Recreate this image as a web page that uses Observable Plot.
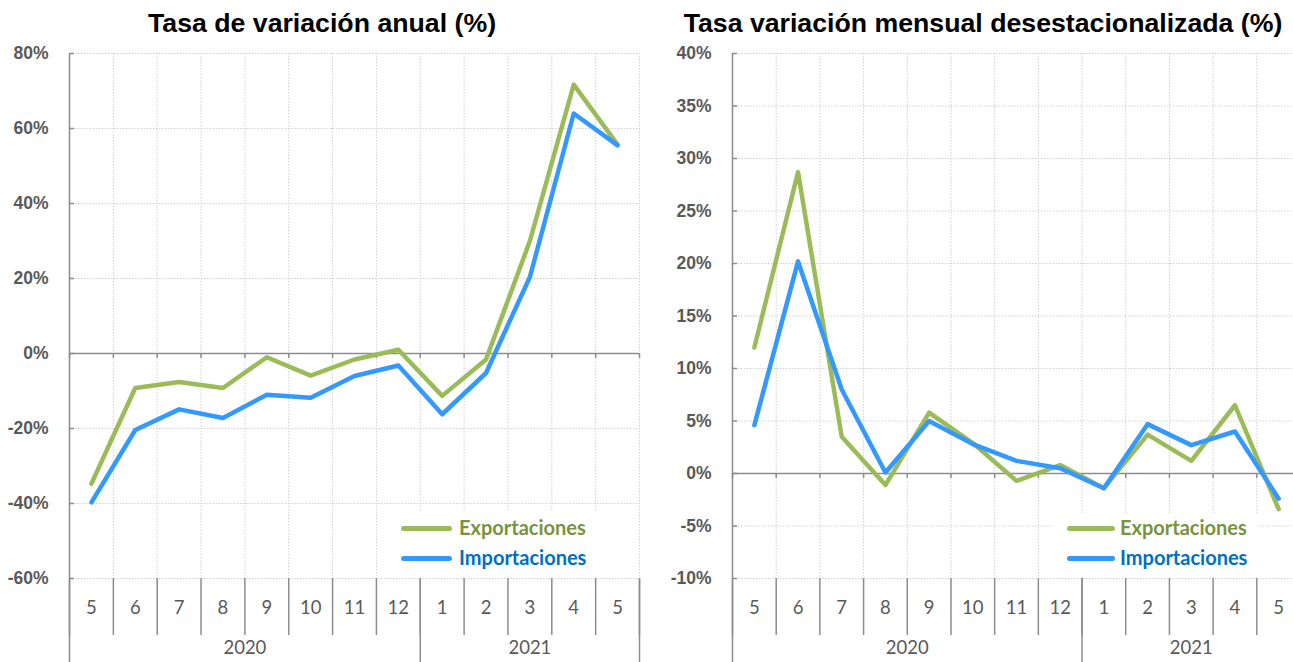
<!DOCTYPE html>
<html>
<head>
<meta charset="utf-8">
<script src="https://cdn.jsdelivr.net/npm/d3@7"></script>
<script src="https://cdn.jsdelivr.net/npm/@observablehq/plot@0.6"></script>
<style>
  html, body { margin: 0; padding: 0; background: #fff; overflow: hidden; }
  #wrap { position: relative; width: 1293px; height: 662px; overflow: hidden; }
  .title { position: absolute; top: 8px; font-family: "Liberation Sans", Arial, sans-serif; font-weight: bold; font-size: 26.7px; line-height: 30px; color: #000; text-align: center; white-space: nowrap; }
  .panel { position: absolute; top: 40px; }
  .panel svg { max-width: none !important; }
  .legend { position: absolute; background: #fff; }
  .lg-line { position: absolute; height: 5px; border-radius: 3px; }
  .lg-text { position: absolute; font-family: Lato, "Open Sans", sans-serif; font-weight: bold; font-size: 20px; line-height: 20px; white-space: nowrap; }
</style>
</head>
<body>
<div id="wrap">
  <div class="title" style="left:0px;width:644px;">Tasa de variación anual (%)</div>
  <div class="title" style="left:660px;width:646px;">Tasa variación mensual desestacionalizada (%)</div>
  <div class="panel" id="p1" style="left:0px;width:660px;"></div>
  <div class="panel" id="p2" style="left:660px;width:650px;"></div>
</div>
<script>
// ---- data ----
const months = ["5","6","7","8","9","10","11","12","1","2","3","4","5"];
const years = ["2020","2021"];
const series = ["Exportaciones","Importaciones"];
const seriesColors = ["#9BBB59","#3399FF"];
const legendTextColors = ["#77933C","#0070C0"];

const annualExp  = [-34.7, -9.2, -7.6, -9.2, -1.0, -5.9, -1.6, 1.0, -11.3, -1.6, 30.0, 71.7, 55.7];
const annualImp  = [-39.7, -20.4, -14.9, -17.2, -11.0, -11.8, -6.0, -3.2, -16.2, -5.2, 20.4, 64.0, 55.5];
const monthlyExp = [12.0, 28.7, 3.5, -1.1, 5.8, 2.9, -0.7, 0.8, -1.4, 3.7, 1.2, 6.5, -3.4];
const monthlyImp = [4.6, 20.2, 8.0, 0.1, 5.0, 2.8, 1.2, 0.5, -1.4, 4.7, 2.7, 4.0, -2.4];

const annualTicks  = [-60, -40, -20, 0, 20, 40, 60, 80];
const monthlyTicks = [-10, -5, 0, 5, 10, 15, 20, 25, 30, 35, 40];

// ---- helpers ----
const idx = d3.range(months.length);
const bounds = d3.range(months.length + 1).map(i => i - 0.5);
const yearBounds = [-0.5, 7.5, 12.5];
const yearCenters = [3.5, 10];
const axisGray = "#8c8c8c";
const textGray = "#595959";
const gridGray = "#d0d0d0";

function rows(exp, imp) {
  const out = [];
  exp.forEach((v, i) => out.push({i, v, s: series[0]}));
  imp.forEach((v, i) => out.push({i, v, s: series[1]}));
  return out;
}

function panel({width, marginLeft, marginRight, ydomain, yticks, exp, imp}) {
  const height = 622, marginTop = 13, marginBottom = 84;
  const pxPerUnitY = (height - marginTop - marginBottom) / (ydomain[1] - ydomain[0]);
  const pxPerUnitX = (width - marginLeft - marginRight) / months.length;
  const zeroTick = 5 / pxPerUnitY;
  const innerTick = 5 / pxPerUnitX;
  return Plot.plot({
    width, height, marginTop, marginBottom, marginLeft, marginRight,
    x: {domain: [-0.5, months.length - 0.5], label: null},
    y: {domain: ydomain, label: null},
    color: {domain: series, range: seriesColors},
    style: {background: "#fff", overflow: "visible", maxWidth: "none"},
    marks: [
      Plot.gridY(yticks, {stroke: gridGray, strokeOpacity: 1, strokeDasharray: "1.5,1.5"}),
      Plot.gridX(bounds.slice(1), {stroke: gridGray, strokeOpacity: 1, strokeDasharray: "1.5,1.5"}),
      Plot.ruleY([0], {stroke: axisGray, strokeWidth: 1.5}),
      Plot.ruleX(bounds, {x: d => d, y1: 0, y2: -zeroTick, stroke: axisGray, strokeWidth: 1.5}),
      Plot.ruleX([-0.5], {stroke: axisGray, strokeWidth: 1.5}),
      Plot.ruleY(yticks, {y: d => d, x1: -0.5, x2: -0.5 + innerTick, stroke: axisGray, strokeWidth: 1.5}),
      Plot.axisY(yticks, {label: null, tickSize: 0, tickPadding: 21, tickFormat: d => d + "%", color: textGray,
        fontSize: 17.5, fontWeight: "bold", fontFamily: "Liberation Sans, Arial, sans-serif"}),
      Plot.axisX(bounds, {label: null, tickSize: 57, tickFormat: () => "", stroke: axisGray, strokeWidth: 1.5}),
      Plot.axisX(yearBounds, {label: null, tickSize: 84, tickFormat: () => "", stroke: axisGray, strokeWidth: 1.5}),
      Plot.axisX(idx, {label: null, tickSize: 0, tickPadding: 22, tickFormat: i => months[i], color: textGray,
        fontSize: 18.5, fontFamily: "Lato, sans-serif"}),
      Plot.axisX(yearCenters, {label: null, tickSize: 0, tickPadding: 62, tickFormat: (d, k) => years[k], color: textGray,
        fontSize: 18.5, fontFamily: "Lato, sans-serif"}),
      Plot.line(rows(exp, imp), {x: "i", y: "v", z: "s", stroke: "s", strokeWidth: 4.5,
        strokeLinejoin: "round", strokeLinecap: "round"})
    ]
  });
}

document.getElementById("p1").appendChild(panel({
  width: 660, marginLeft: 69, marginRight: 21,
  ydomain: [-60, 80], yticks: annualTicks, exp: annualExp, imp: annualImp
}));
document.getElementById("p2").appendChild(panel({
  width: 650, marginLeft: 72, marginRight: 10,
  ydomain: [-10, 40], yticks: monthlyTicks, exp: monthlyExp, imp: monthlyImp
}));

// ---- legends ----
function legend(box, lineX, lineW, textX) {
  const wrap = document.getElementById("wrap");
  const lg = document.createElement("div");
  lg.className = "legend";
  Object.assign(lg.style, {left: box[0] + "px", top: box[1] + "px", width: box[2] + "px", height: box[3] + "px"});
  wrap.appendChild(lg);
  const rowsY = [528, 558];
  series.forEach((name, k) => {
    const ln = document.createElement("div");
    ln.className = "lg-line";
    Object.assign(ln.style, {left: (lineX - box[0]) + "px", top: (rowsY[k] - 2.5 - box[1]) + "px",
      width: lineW + "px", background: seriesColors[k]});
    lg.appendChild(ln);
    const tx = document.createElement("div");
    tx.className = "lg-text";
    tx.textContent = name;
    Object.assign(tx.style, {left: (textX - box[0]) + "px", top: (rowsY[k] - 11 - box[1]) + "px",
      color: legendTextColors[k]});
    lg.appendChild(tx);
  });
}
legend([395, 510, 238, 66], 401, 51, 459);
legend([1052, 513, 206, 63], 1067, 48, 1120);
</script>
</body>
</html>
